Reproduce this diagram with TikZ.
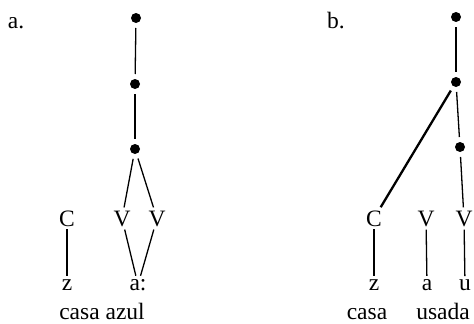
\documentclass[tikz,border=0pt]{standalone}
\usepackage{fontspec}
\setmainfont{Liberation Serif}
\begin{document}
\begin{tikzpicture}[x=1pt,y=-1pt,
  dotnode/.style={circle,fill=black,inner sep=0pt,minimum size=10pt,outer sep=5pt},
  seg/.style={anchor=base,inner sep=3pt,font=\fontsize{23.5}{26}\selectfont},
  lbl/.style={anchor=base,inner sep=0pt,font=\fontsize{23.5}{26}\selectfont},
  edge/.style={line width=1.3pt},
  thickedge/.style={line width=2.3pt}]
\useasboundingbox (0,0) rectangle (474,324);
% panel a
\node[lbl] (la) at (16,28) {a.};
\node[dotnode] (a1) at (136,18) {};
\node[dotnode] (a2) at (135,84) {};
\node[dotnode] (a3) at (135,149) {};
\node[seg] (aC) at (67,226) {C};
\node[seg] (aV1) at (122,226) {V};
\node[seg] (aV2) at (157,226) {V};
\node[seg] (az) at (67,290) {z};
\node[seg] (aa) at (138,290) {a:};
\node[lbl] (awords) at (102,319) {casa azul};
\draw[edge] (a1) -- (a2);
\draw[edge] (a2) -- (a3);
\draw[edge] (a3) -- (aV1);
\draw[edge] (a3) -- (aV2);
\draw[edge] (aC) -- (az);
\draw[edge] (aV1) -- (aa);
\draw[edge] (aV2) -- (aa);
% panel b
\node[lbl] (lb) at (336,28) {b.};
\node[dotnode] (b1) at (456,17) {};
\node[dotnode] (b2) at (456,82) {};
\node[dotnode] (b3) at (460,147) {};
\node[seg] (bC) at (374,226) {C};
\node[seg] (bV1) at (426,226) {V};
\node[seg] (bV2) at (464,226) {V};
\node[seg] (bz) at (374,290) {z};
\node[seg] (ba) at (427,290) {a};
\node[seg] (bu) at (465,290) {u};
\node[lbl] (bw1) at (367,319) {casa};
\node[lbl] (bw2) at (443,319) {usada};
\draw[edge] (b1) -- (b2);
\draw[edge] (b2) -- (b3);
\draw[thickedge] (b2) -- (bC);
\draw[edge] (b3) -- (bV2);
\draw[edge] (bC) -- (bz);
\draw[edge] (bV1) -- (ba);
\draw[edge] (bV2) -- (bu);
\end{tikzpicture}
\end{document}
